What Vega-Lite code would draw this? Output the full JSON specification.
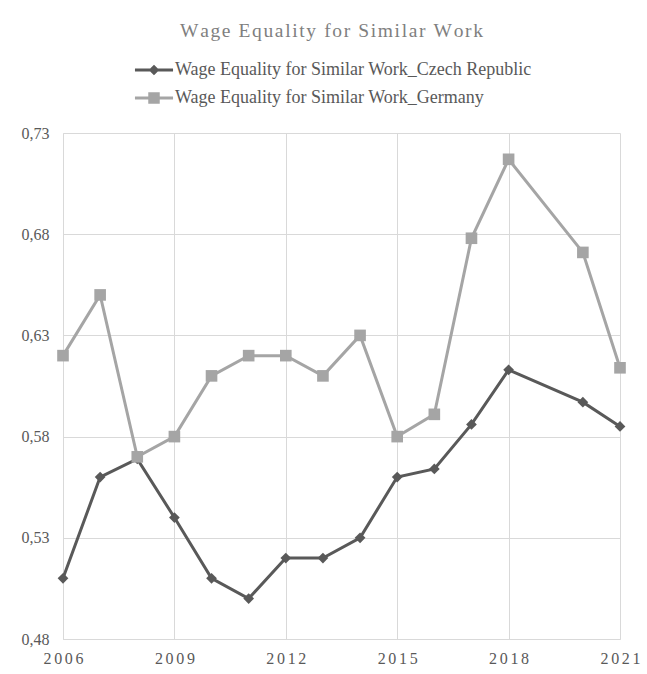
{
  "$schema": "https://vega.github.io/schema/vega-lite/v6.json",
  "autosize": "none",
  "width": 557,
  "height": 506,
  "padding": {"left": 63, "top": 133, "right": 27, "bottom": 35},
  "background": "white",
  "title": {
    "text": "W\u200aa\u200ag\u200ae\u200a \u200aE\u200aq\u200au\u200aa\u200al\u200ai\u200at\u200ay\u200a \u200af\u200ao\u200ar\u200a \u200aS\u200ai\u200am\u200ai\u200al\u200aa\u200ar\u200a \u200aW\u200ao\u200ar\u200ak",
    "anchor": "middle",
    "frame": "group",
    "dx": -10,
    "offset": 0,
    "baseline": "alphabetic",
    "font": "Liberation Serif",
    "fontSize": 19.5,
    "fontWeight": "normal",
    "color": "#7f7f7f"
  },
  "data": {
    "values": [
      {"year": 2006, "series": "Wage Equality for Similar Work_Czech Republic", "value": 0.51},
      {"year": 2007, "series": "Wage Equality for Similar Work_Czech Republic", "value": 0.56},
      {"year": 2008, "series": "Wage Equality for Similar Work_Czech Republic", "value": 0.569},
      {"year": 2009, "series": "Wage Equality for Similar Work_Czech Republic", "value": 0.54},
      {"year": 2010, "series": "Wage Equality for Similar Work_Czech Republic", "value": 0.51},
      {"year": 2011, "series": "Wage Equality for Similar Work_Czech Republic", "value": 0.5},
      {"year": 2012, "series": "Wage Equality for Similar Work_Czech Republic", "value": 0.52},
      {"year": 2013, "series": "Wage Equality for Similar Work_Czech Republic", "value": 0.52},
      {"year": 2014, "series": "Wage Equality for Similar Work_Czech Republic", "value": 0.53},
      {"year": 2015, "series": "Wage Equality for Similar Work_Czech Republic", "value": 0.56},
      {"year": 2016, "series": "Wage Equality for Similar Work_Czech Republic", "value": 0.564},
      {"year": 2017, "series": "Wage Equality for Similar Work_Czech Republic", "value": 0.586},
      {"year": 2018, "series": "Wage Equality for Similar Work_Czech Republic", "value": 0.613},
      {"year": 2020, "series": "Wage Equality for Similar Work_Czech Republic", "value": 0.597},
      {"year": 2021, "series": "Wage Equality for Similar Work_Czech Republic", "value": 0.585},
      {"year": 2006, "series": "Wage Equality for Similar Work_Germany", "value": 0.62},
      {"year": 2007, "series": "Wage Equality for Similar Work_Germany", "value": 0.65},
      {"year": 2008, "series": "Wage Equality for Similar Work_Germany", "value": 0.57},
      {"year": 2009, "series": "Wage Equality for Similar Work_Germany", "value": 0.58},
      {"year": 2010, "series": "Wage Equality for Similar Work_Germany", "value": 0.61},
      {"year": 2011, "series": "Wage Equality for Similar Work_Germany", "value": 0.62},
      {"year": 2012, "series": "Wage Equality for Similar Work_Germany", "value": 0.62},
      {"year": 2013, "series": "Wage Equality for Similar Work_Germany", "value": 0.61},
      {"year": 2014, "series": "Wage Equality for Similar Work_Germany", "value": 0.63},
      {"year": 2015, "series": "Wage Equality for Similar Work_Germany", "value": 0.58},
      {"year": 2016, "series": "Wage Equality for Similar Work_Germany", "value": 0.591},
      {"year": 2017, "series": "Wage Equality for Similar Work_Germany", "value": 0.678},
      {"year": 2018, "series": "Wage Equality for Similar Work_Germany", "value": 0.717},
      {"year": 2020, "series": "Wage Equality for Similar Work_Germany", "value": 0.671},
      {"year": 2021, "series": "Wage Equality for Similar Work_Germany", "value": 0.614}
    ]
  },
  "encoding": {
    "x": {
      "field": "year",
      "type": "quantitative",
      "scale": {"domain": [2006, 2021], "nice": false, "zero": false},
      "axis": {
        "title": null,
        "values": [2006, 2009, 2012, 2015, 2018, 2021],
        "labelExpr": "join(split(format(datum.value, 'd'), ''), '\u200a\u200a')",
        "ticks": false,
        "domainColor": "#d9d9d9",
        "gridColor": "#d9d9d9",
        "labelFont": "Liberation Serif",
        "labelFontSize": 16,
        "labelColor": "#595959",
        "labelPadding": 11,
        "labelFlush": false,
        "labelOverlap": false,
        "labelBound": false
      }
    },
    "y": {
      "field": "value",
      "type": "quantitative",
      "scale": {"domain": [0.48, 0.73], "nice": false, "zero": false},
      "axis": {
        "title": null,
        "values": [0.48, 0.53, 0.58, 0.63, 0.68, 0.73],
        "labelExpr": "replace(format(datum.value, '.2f'), '.', ',')",
        "ticks": false,
        "domainColor": "#d9d9d9",
        "gridColor": "#d9d9d9",
        "labelFont": "Liberation Serif",
        "labelFontSize": 16,
        "labelColor": "#595959",
        "labelPadding": 14,
        "labelFlush": false,
        "labelOverlap": false,
        "labelBound": false
      }
    },
    "color": {
      "field": "series",
      "type": "nominal",
      "scale": {
        "domain": ["Wage Equality for Similar Work_Czech Republic", "Wage Equality for Similar Work_Germany"],
        "range": ["#595959", "#a5a5a5"]
      },
      "legend": {
        "title": null,
        "orient": "none",
        "legendX": 77,
        "legendY": -77,
        "direction": "vertical",
        "padding": 0,
        "rowPadding": 5,
        "symbolSize": 784,
        "symbolStrokeWidth": 0,
        "labelOffset": 7,
        "labelFont": "Liberation Serif",
        "labelFontSize": 18,
        "labelColor": "#595959",
        "labelLimit": 0,
        "encoding": {
          "symbols": {
            "shape": {
              "condition": {
                "test": "datum.value == 'Wage Equality for Similar Work_Czech Republic'",
                "value": "M-1.36,-0.11H1.36V0.11H-1.36Z M0,-0.38L0.38,0L0,0.38L-0.38,0Z"
              },
              "value": "M-1.36,-0.11H1.36V0.11H-1.36Z M-0.41,-0.41H0.41V0.41H-0.41Z"
            },
            "fill": {
              "condition": {
                "test": "datum.value == 'Wage Equality for Similar Work_Czech Republic'",
                "value": "#595959"
              },
              "value": "#a5a5a5"
            },
            "opacity": {"value": 1},
            "fillOpacity": {"value": 1},
            "strokeWidth": {"value": 0}
          },
          "labels": {
            "font": {"value": "Liberation Serif"},
            "fontSize": {"value": 18},
            "fill": {"value": "#595959"}
          }
        }
      }
    }
  },
  "layer": [
    {
      "mark": {"type": "line", "strokeWidth": 3}
    },
    {
      "transform": [{"filter": "datum.series == 'Wage Equality for Similar Work_Czech Republic'"}],
      "mark": {"type": "point", "shape": "diamond", "size": 115, "filled": true, "opacity": 1}
    },
    {
      "transform": [{"filter": "datum.series == 'Wage Equality for Similar Work_Germany'"}],
      "mark": {"type": "point", "shape": "square", "size": 135, "filled": true, "opacity": 1}
    }
  ],
  "config": {
    "view": {"stroke": null},
    "axis": {"gridWidth": 1, "domainWidth": 1},
    "legend": {"labelFont": "Liberation Serif", "labelFontSize": 18, "labelColor": "#595959"}
  }
}
